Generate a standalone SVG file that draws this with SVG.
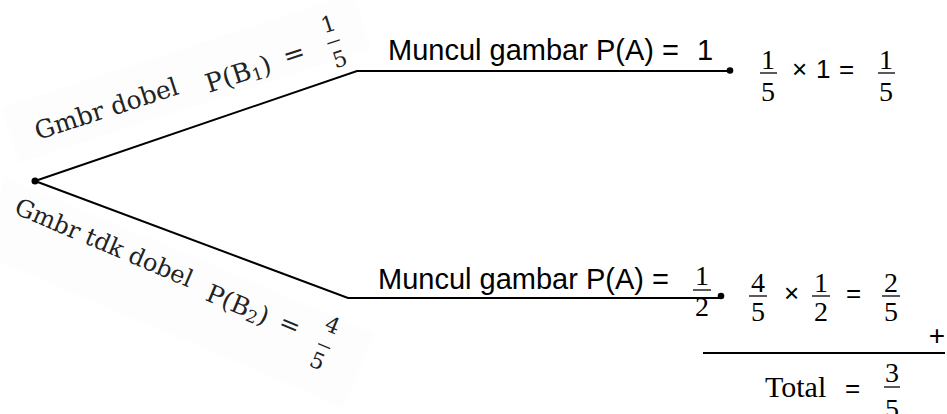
<svg xmlns="http://www.w3.org/2000/svg" width="947" height="414" viewBox="0 0 947 414">
<style>
.sans{font-family:"Liberation Sans",Arial,sans-serif;font-size:29px;fill:#000}
.op{font-family:"Liberation Sans",Arial,sans-serif;font-size:26px;fill:#000}
.num{font-family:"Liberation Serif","Times New Roman",serif;font-size:28px;fill:#000;text-anchor:middle}
.tot{font-family:"Liberation Serif","Times New Roman",serif;font-size:30px;fill:#000}
.lbl{font-family:"DejaVu Serif",serif;font-size:25px;fill:#222}
.lf{font-family:"DejaVu Serif",serif;font-size:22px;fill:#222;text-anchor:middle}
.sub{font-size:17px}
.ln{stroke:#000;stroke-width:2;fill:none}
.fb{stroke:#000;stroke-width:1.3}
.fbl{stroke:#222;stroke-width:1.3}
.bg{fill:#fdfdfd}
</style>
<rect width="947" height="414" fill="#fff"/>
<g id="label-b1" transform="translate(38,140) rotate(-18)">
<rect class="bg" x="-25" y="-42" width="370" height="58"/>
<text class="lbl" x="0" y="0">Gmbr dobel</text>
<text class="lbl" x="177" y="8" style="font-size:26px">P(B<tspan class="sub" dy="3">1</tspan><tspan dy="-3">)</tspan></text>
<text class="lbl" x="259" y="6" style="font-size:26px">=</text>
<text class="lf" x="312" y="-13">1</text>
<line class="fbl" x1="305" y1="-2" x2="318" y2="-2"/>
<text class="lf" x="312" y="24">5</text>
</g>
<g id="label-b2" transform="translate(13,213) rotate(23)">
<rect class="bg" x="-20" y="-30" width="400" height="80"/>
<text class="lbl" x="0" y="0" style="font-size:24px">Gmbr tdk dobel</text>
<text class="lbl" x="210" y="5">P(B<tspan class="sub" dy="3">2</tspan><tspan dy="-3">)</tspan></text>
<text class="lbl" x="288" y="3">=</text>
<text class="lf" x="338" y="-14">4</text>
<line class="fbl" x1="332" y1="1" x2="345" y2="1"/>
<text class="lf" x="338" y="25">5</text>
</g>
<g id="connectors">
<polyline class="ln" points="35,181 357,71 730,71"/>
<polyline class="ln" points="35,181 348,298 721,298"/>
</g>
<g id="root"><circle cx="35" cy="181" r="3.5"/></g>
<g id="node-a1">
<text class="sans" x="388" y="60">Muncul gambar P(A) =</text>
<text class="sans" x="697" y="60">1</text>
<circle cx="730" cy="70.5" r="3.3"/>
</g>
<g id="node-a2">
<text class="sans" x="378" y="289">Muncul gambar P(A) =</text>
<text class="num" x="702" y="285">1</text>
<line class="fb" x1="693" y1="290" x2="711" y2="290"/>
<text class="num" x="702" y="316">2</text>
<circle cx="721" cy="296" r="3.3"/>
</g>
<g id="result1">
<text class="num" x="768" y="69">1</text>
<line class="fb" x1="760" y1="73" x2="777" y2="73"/>
<text class="num" x="768" y="101">5</text>
<text class="op" x="792" y="78">×</text>
<text class="op" x="816" y="78">1</text>
<text class="op" x="839" y="78">=</text>
<text class="num" x="886" y="69">1</text>
<line class="fb" x1="878" y1="73" x2="895" y2="73"/>
<text class="num" x="886" y="101">5</text>
</g>
<g id="result2">
<text class="num" x="758" y="292">4</text>
<line class="fb" x1="749" y1="296" x2="767" y2="296"/>
<text class="num" x="758" y="321">5</text>
<text class="op" x="784" y="302">×</text>
<text class="num" x="821" y="292">1</text>
<line class="fb" x1="812" y1="296" x2="830" y2="296"/>
<text class="num" x="821" y="321">2</text>
<text class="op" x="846" y="302">=</text>
<text class="num" x="891" y="292">2</text>
<line class="fb" x1="882" y1="296" x2="900" y2="296"/>
<text class="num" x="891" y="321">5</text>
</g>
<g id="total">
<text class="op" x="937" y="345" text-anchor="middle" style="font-size:28px">+</text>
<line class="ln" x1="703" y1="353" x2="945" y2="353"/>
<text class="tot" x="765" y="397">Total</text>
<text class="op" x="845" y="397">=</text>
<text class="num" x="892" y="382">3</text>
<line class="fb" x1="884" y1="387" x2="900" y2="387"/>
<text class="num" x="892" y="418">5</text>
</g>
</svg>
